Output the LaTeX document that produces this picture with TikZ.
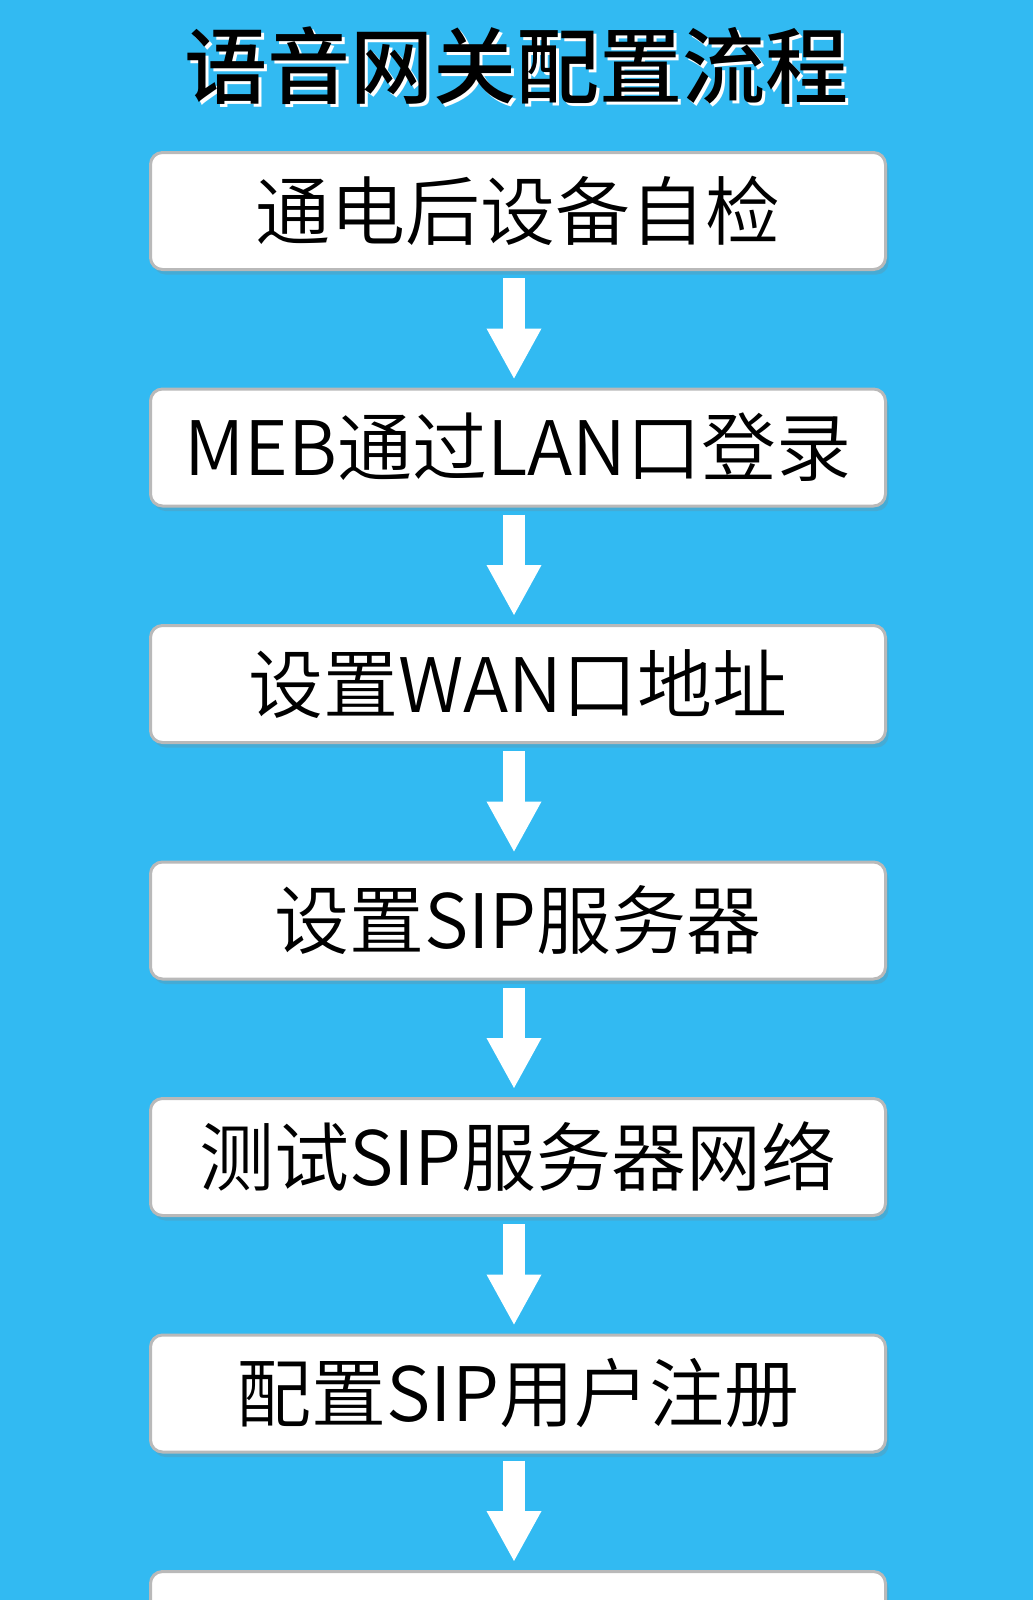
\documentclass[tikz,border=0pt]{standalone}
\usepackage{fontspec}
\newfontfamily\cjk{Noto Sans CJK SC}[UprightFont={* DemiLight}, BoldFont={* Medium}]
\usetikzlibrary{arrows.meta,positioning,shadows}
\definecolor{skyblue}{RGB}{50,186,242}

\begin{document}
\begin{tikzpicture}[x=1pt, y=-1pt, every node/.style={font=\cjk},
    stepbox/.style={draw=gray!55, line width=3pt, fill=white, rounded corners=12pt,
      minimum width=735pt, minimum height=117pt, inner sep=0pt,
      drop shadow={shadow xshift=3pt, shadow yshift=-5pt, opacity=0.25},
      font=\cjk\fontsize{75}{80}\selectfont},
    flow/.style={white, line width=22pt, -{Triangle[length=51pt,width=51pt]},
      shorten <=7pt, shorten >=8pt},
    heading/.style={font=\cjk\bfseries\fontsize{83}{88}\selectfont},
    node distance=116.5pt]
  \fill[skyblue] (0,0) rectangle (1033,1600);
  \useasboundingbox (0,0) rectangle (1033,1600);
  % title with white offset
  \node[heading, white] (shade) at (519,69) {语音网关配置流程};
  \node[heading] (title) at (516,66) {语音网关配置流程};
  % steps
  \node[stepbox] (s1) at (518,211) {通电后设备自检};
  \node[stepbox, below=of s1] (s2) {MEB通过LAN口登录};
  \node[stepbox, below=of s2] (s3) {设置WAN口地址};
  \node[stepbox, below=of s3] (s4) {设置SIP服务器};
  \node[stepbox, below=of s4] (s5) {测试SIP服务器网络};
  \node[stepbox, below=of s5] (s6) {配置SIP用户注册};
  \node[stepbox, below=of s6] (s7) {};
  \foreach \a/\b in {s1/s2, s2/s3, s3/s4, s4/s5, s5/s6, s6/s7}
    \draw[flow] ([xshift=-4pt]\a.south) -- ([xshift=-4pt]\b.north);
\end{tikzpicture}
\end{document}
